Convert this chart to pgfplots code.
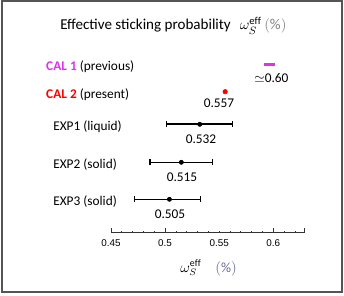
\documentclass[border=0pt]{standalone}
\usepackage{pgfplots}
\pgfplotsset{compat=1.18}
\usepackage{fontspec}
\setmainfont{Carlito}
\newfontfamily\arialf{Liberation Sans}
\definecolor{calone}{RGB}{225,50,235}
\definecolor{caltwo}{RGB}{255,0,0}
\definecolor{framegray}{RGB}{85,85,85}
\begin{document}
\begin{tikzpicture}
\begin{axis}[
  x=811.5pt, y=0.75pt,
  xmin=0.45, xmax=0.6287, ymin=-232.7, ymax=-5,
  axis x line=bottom, axis y line=none,
  axis line style={-, line width=0.6pt, black!80},
  clip=false,
  tick align=inside,
  xtick={0.45,0.5,0.6,0.6287},
  xticklabels={0.45,0.5,0.6,{}},
  minor xtick={0.46,0.47,0.48,0.49,0.51,0.52,0.53,0.54,0.55,0.56,0.57,0.58,0.59,0.61,0.62},
  extra x ticks={0.55},
  extra x tick labels={0.55},
  extra x tick style={major tick length=0pt},
  major tick length=3.75pt, minor tick length=1.6pt,
  every tick/.style={black!80, line width=0.6pt},
  xticklabel style={font=\arialf\fontsize{7.4}{8}\selectfont, anchor=center, yshift=-8pt},
]
% CAL 1 (previous)
\addplot[only marks, mark=-, mark size=4.1pt, mark options={line width=2.25pt, color=calone}] coordinates {(0.5965,-64.7)};
% CAL 2 (present)
\addplot[only marks, mark=*, mark size=1.7pt, caltwo] coordinates {(0.5555,-91.7)};
% EXP
\addplot[only marks, mark=*, mark size=1.6pt, black,
  error bars/.cd, x dir=both, x explicit,
  error bar style={line width=1.2pt, black},
  error mark=|,
  error mark options={line width=1pt, mark size=2.3pt, black}]
  coordinates {
  (0.532,-124.3) += (0.030,0) -= (0.031,0)
  (0.515,-162.3) += (0.029,0) -= (0.029,0)
  (0.504,-199.3) += (0.029,0) -= (0.032,0)
  };
% title
\node[anchor=base west, font=\fontsize{11.3}{13}\selectfont, inner sep=0pt] at (0.4029,-30) {Effective sticking probability\hspace{0.6em}$\omega_S^{\mathrm{eff}}$\,\textcolor{gray}{$(\%)$}};
% category labels
\node[anchor=base west, font=\fontsize{10}{12}\selectfont, inner sep=0pt] at (0.3899,-70.5) {\textbf{\textcolor{calone}{CAL 1}} (previous)};
\node[anchor=base west, font=\fontsize{10}{12}\selectfont, inner sep=0pt] at (0.3899,-99) {\textbf{\textcolor{caltwo}{CAL 2}} (present)};
\node[anchor=base west, font=\fontsize{10}{12}\selectfont, inner sep=0pt] at (0.3964,-130.7) {EXP1 (liquid)};
\node[anchor=base west, font=\fontsize{10}{12}\selectfont, inner sep=0pt] at (0.3964,-168.3) {EXP2 (solid)};
\node[anchor=base west, font=\fontsize{10}{12}\selectfont, inner sep=0pt] at (0.3964,-205.3) {EXP3 (solid)};
% value labels
\node[anchor=base, font=\fontsize{10}{12}\selectfont, inner sep=0pt] at (0.5983,-82.3) {$\simeq$0.60};
\node[anchor=base, font=\fontsize{10}{12}\selectfont, inner sep=0pt] at (0.5498,-107.3) {0.557};
\node[anchor=base, font=\fontsize{10}{12}\selectfont, inner sep=0pt] at (0.5332,-143.3) {0.532};
\node[anchor=base, font=\fontsize{10}{12}\selectfont, inner sep=0pt] at (0.5156,-181) {0.515};
\node[anchor=base, font=\fontsize{10}{12}\selectfont, inner sep=0pt] at (0.5045,-218.3) {0.505};
% x label
\node[anchor=base west, font=\fontsize{10.5}{12}\selectfont, inner sep=0pt] at (0.5138,-272) {$\omega_S^{\mathrm{eff}}$\quad\textcolor{gray!80!blue}{$(\%)$}};
% frame and bounds
\draw[framegray, line width=1.5pt] (0.34926,-1.5) rectangle (0.6635,-292);
\path (0.34741,0) rectangle (0.66534,-295);
\end{axis}
\end{tikzpicture}
\end{document}
